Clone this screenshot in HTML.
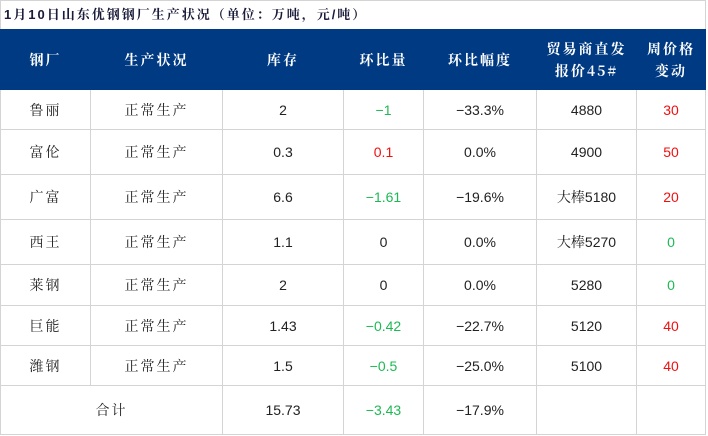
<!DOCTYPE html>
<html><head><meta charset="utf-8"><style>
body{margin:0;width:708px;height:436px;background:#fff;overflow:hidden;font-family:"Liberation Sans","Noto Serif CJK SC","Noto Sans CJK SC",sans-serif;}
.title{position:absolute;left:4px;top:4px;font-size:13px;font-weight:bold;color:#1a1a3a;font-family:"Liberation Sans","Noto Serif CJK SC",serif;letter-spacing:2px}
table{position:absolute;left:0;top:29px;border-collapse:collapse;table-layout:fixed;width:705px}
td,th{border:1px solid #d4d4d4;text-align:center;font-size:14px;color:#222;padding:0}
th{background:#003a82;color:#fff;border-color:#003a82;font-family:"Noto Serif CJK SC",serif;font-weight:bold;font-size:14px;line-height:22px;letter-spacing:2px}
.c{font-family:"Noto Serif CJK SC",serif;letter-spacing:2px}
.g{color:#1db954}.r{color:#f01010}
</style></head><body>
<div style="position:absolute;left:0;top:0;width:706px;height:29px;border:1px solid #d4d4d4;box-sizing:border-box;border-bottom:none"></div>
<div class="title">1月10日山东优钢钢厂生产状况（单位：万吨，元/吨）</div>
<table>
<colgroup><col style="width:90px"><col style="width:132px"><col style="width:121px"><col style="width:80px"><col style="width:113px"><col style="width:100px"><col style="width:69px"></colgroup>
<tr style="height:60px"><th>钢厂</th><th>生产状况</th><th>库存</th><th>环比量</th><th>环比幅度</th><th>贸易商直发<br>报价45#</th><th>周价格<br>变动</th></tr>
<tr style="height:40px"><td class="c">鲁丽</td><td class="c">正常生产</td><td>2</td><td class="g">−1</td><td>−33.3%</td><td>4880</td><td class="r">30</td></tr>
<tr style="height:45px"><td class="c">富伦</td><td class="c">正常生产</td><td>0.3</td><td class="r">0.1</td><td>0.0%</td><td>4900</td><td class="r">50</td></tr>
<tr style="height:45px"><td class="c">广富</td><td class="c">正常生产</td><td>6.6</td><td class="g">−1.61</td><td>−19.6%</td><td>大棒5180</td><td class="r">20</td></tr>
<tr style="height:45px"><td class="c">西王</td><td class="c">正常生产</td><td>1.1</td><td>0</td><td>0.0%</td><td>大棒5270</td><td class="g">0</td></tr>
<tr style="height:41px"><td class="c">莱钢</td><td class="c">正常生产</td><td>2</td><td>0</td><td>0.0%</td><td>5280</td><td class="g">0</td></tr>
<tr style="height:40px"><td class="c">巨能</td><td class="c">正常生产</td><td>1.43</td><td class="g">−0.42</td><td>−22.7%</td><td>5120</td><td class="r">40</td></tr>
<tr style="height:40px"><td class="c">潍钢</td><td class="c">正常生产</td><td>1.5</td><td class="g">−0.5</td><td>−25.0%</td><td>5100</td><td class="r">40</td></tr>
<tr style="height:49px"><td colspan="2" class="c">合计</td><td>15.73</td><td class="g">−3.43</td><td>−17.9%</td><td></td><td></td></tr>
</table>
</body></html>
